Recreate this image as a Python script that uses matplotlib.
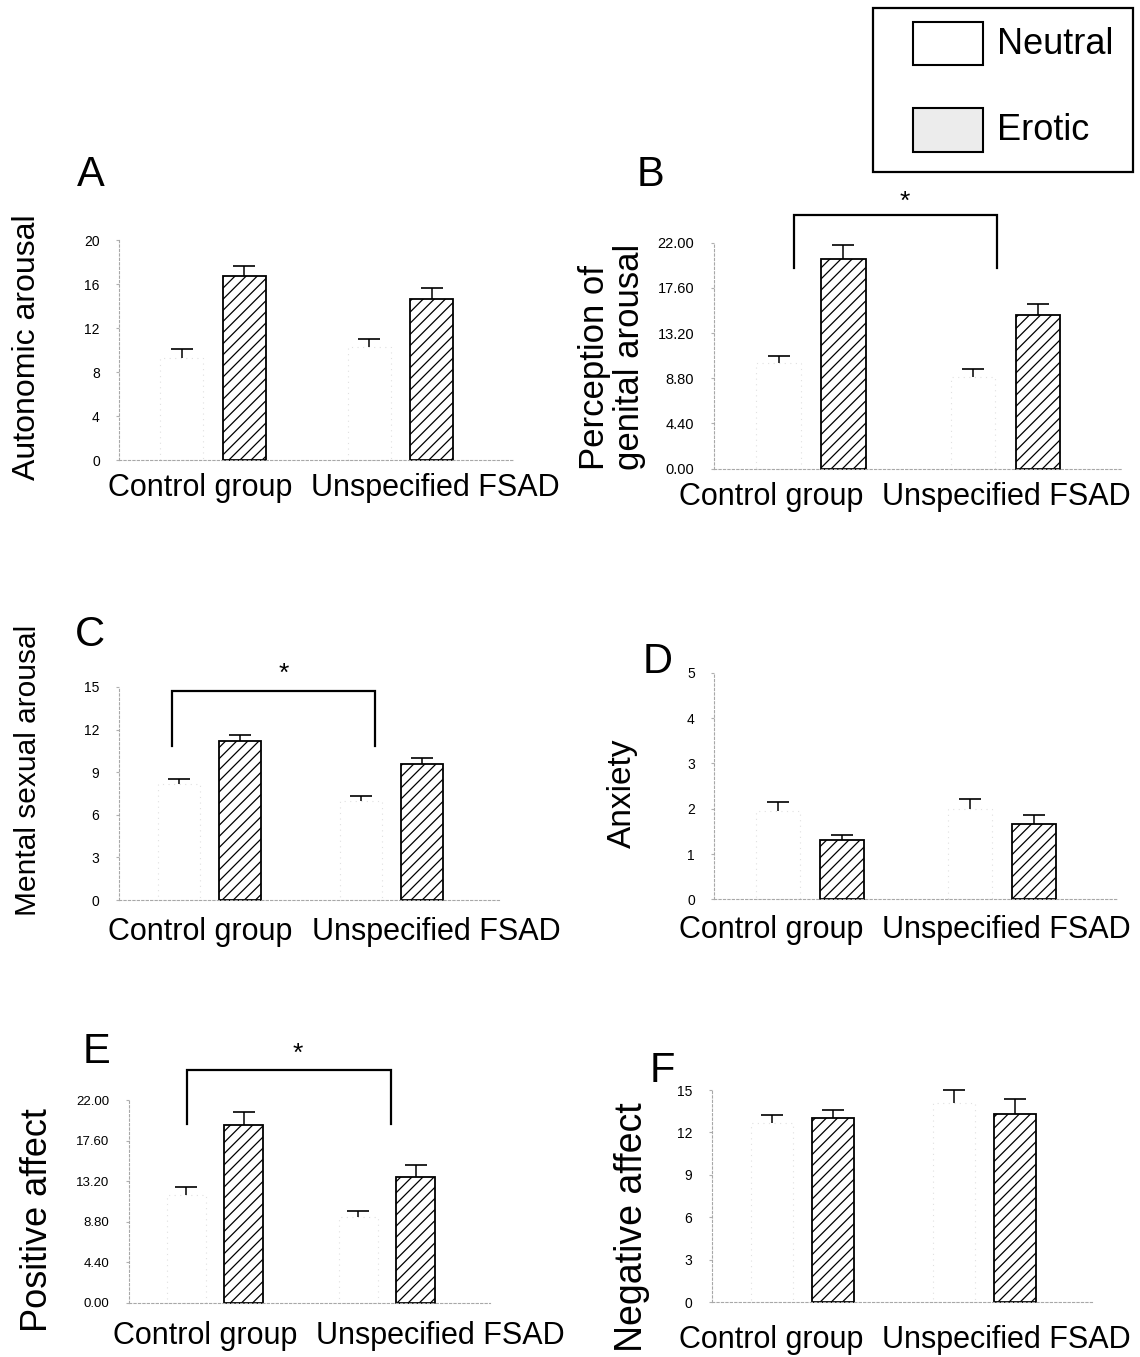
import matplotlib
matplotlib.use("Agg")
import matplotlib.pyplot as plt
from matplotlib.patches import Rectangle

plt.rcParams['font.family'] = ['Liberation Sans', 'DejaVu Sans']
plt.rcParams['hatch.linewidth'] = 0.9

W, H = 1140, 1357

groups = ["Control group", "Unspecified FSAD"]
conditions = ["Neutral", "Erotic"]

# Panel A - Autonomic arousal
autonomic_neutral = [9.3, 10.25]
autonomic_neutral_err = [0.75, 0.72]
autonomic_erotic = [16.7, 14.6]
autonomic_erotic_err = [0.9, 1.0]
autonomic_ticks = [0, 4, 8, 12, 16, 20]

# Panel B - Perception of genital arousal
genital_neutral = [10.25, 8.9]
genital_neutral_err = [0.75, 0.77]
genital_erotic = [20.4, 14.96]
genital_erotic_err = [1.4, 1.05]
genital_ticks = [0.0, 4.4, 8.8, 13.2, 17.6, 22.0]

# Panel C - Mental sexual arousal
mental_neutral = [8.2, 6.97]
mental_neutral_err = [0.3, 0.38]
mental_erotic = [11.2, 9.55]
mental_erotic_err = [0.4, 0.45]
mental_ticks = [0, 3, 6, 9, 12, 15]

# Panel D - Anxiety
anxiety_neutral = [1.96, 1.99]
anxiety_neutral_err = [0.18, 0.22]
anxiety_erotic = [1.32, 1.66]
anxiety_erotic_err = [0.1, 0.19]
anxiety_ticks = [0, 1, 2, 3, 4, 5]

# Panel E - Positive affect
positive_neutral = [11.7, 9.27]
positive_neutral_err = [0.9, 0.69]
positive_erotic = [19.3, 13.7]
positive_erotic_err = [1.36, 1.2]
positive_ticks = [0.0, 4.4, 8.8, 13.2, 17.6, 22.0]

# Panel F - Negative affect
negative_neutral = [12.7, 14.06]
negative_neutral_err = [0.56, 0.94]
negative_erotic = [13.0, 13.28]
negative_erotic_err = [0.6, 1.09]
negative_ticks = [0, 3, 6, 9, 12, 15]

fig = plt.figure(figsize=(W / 100, H / 100), dpi=100)

# overlay in pixel coordinates for labels / legend
ov = fig.add_axes([0, 0, 1, 1])
ov.set_xlim(0, W)
ov.set_ylim(H, 0)
ov.axis('off')
ov.set_zorder(5)

panels = [
    dict(letter="A", ylabel="Autonomic arousal", neu=autonomic_neutral, neu_e=autonomic_neutral_err,
         ero=autonomic_erotic, ero_e=autonomic_erotic_err, ticks=autonomic_ticks, fmt="{:.0f}",
         g0=213, S=187.5, zero=460, top=240,
         letter_xy=(91, 175), ylab_xy=(27, 347), ylab_fs=23, cat_y=488, cat_x=(200, 435),
         bracket=None, tfs=10),
    dict(letter="B", ylabel="Perception of\ngenital arousal", neu=genital_neutral, neu_e=genital_neutral_err,
         ero=genital_erotic, ero_e=genital_erotic_err, ticks=genital_ticks, fmt="{:.2f}",
         g0=811, S=194.5, zero=468.5, top=242.8,
         letter_xy=(650, 175), ylab_xy=(612, 345), ylab_fs=25, cat_y=497, cat_x=(771, 1006),
         bracket=(-0.087, 0.956, 24.7, 19.5, 0.48, 26.0), tfs=10.5),
    dict(letter="C", ylabel="Mental sexual arousal", neu=mental_neutral, neu_e=mental_neutral_err,
         ero=mental_erotic, ero_e=mental_erotic_err, ticks=mental_ticks, fmt="{:.0f}",
         g0=209.5, S=182, zero=900, top=687,
         letter_xy=(90, 635), ylab_xy=(28, 770), ylab_fs=21.5, cat_y=932, cat_x=(200, 436),
         bracket=(-0.205, 0.912, 14.74, 10.85, 0.41, 15.9), tfs=10),
    dict(letter="D", ylabel="Anxiety", neu=anxiety_neutral, neu_e=anxiety_neutral_err,
         ero=anxiety_erotic, ero_e=anxiety_erotic_err, ticks=anxiety_ticks, fmt="{:.0f}",
         g0=810.25, S=192, zero=899.3, top=672.8,
         letter_xy=(658, 662), ylab_xy=(622, 793), ylab_fs=24, cat_y=930, cat_x=(771, 1006),
         bracket=None, tfs=10),
    dict(letter="E", ylabel="Positive affect", neu=positive_neutral, neu_e=positive_neutral_err,
         ero=positive_erotic, ero_e=positive_erotic_err, ticks=positive_ticks, fmt="{:.2f}",
         g0=215, S=172, zero=1302.7, top=1100.1,
         letter_xy=(96, 1052), ylab_xy=(38, 1220), ylab_fs=26, cat_y=1336, cat_x=(205, 440),
         bracket=(-0.16, 1.023, 25.3, 19.4, 0.48, 27.0), tfs=9.5),
    dict(letter="F", ylabel="Negative affect", neu=negative_neutral, neu_e=negative_neutral_err,
         ero=negative_erotic, ero_e=negative_erotic_err, ticks=negative_ticks, fmt="{:.0f}",
         g0=802.5, S=182, zero=1302, top=1090,
         letter_xy=(662, 1071), ylab_xy=(632, 1227), ylab_fs=27, cat_y=1340, cat_x=(771, 1006),
         bracket=None, tfs=10),
]

XMIN, XMAX = -0.5, 1.6
OFF = 1 / 6
BW = 0.23


def upper_errorbar(ax, x, y, err):
    tops = [a + b for a, b in zip(y, err)]
    ax.vlines(x, y, tops, colors="black", linewidth=1.1, clip_on=False, zorder=3)
    ax.plot(x, tops, linestyle="none", marker="_", markersize=16, markeredgewidth=1.2,
            color="black", clip_on=False, zorder=3)


for p in panels:
    left = p["g0"] + XMIN * p["S"]
    width = (XMAX - XMIN) * p["S"]
    height = p["zero"] - p["top"]
    ax = fig.add_axes([left / W, (H - p["zero"]) / H, width / W, height / H])
    ax.set_xlim(XMIN, XMAX)
    ax.set_ylim(p["ticks"][0], p["ticks"][-1])
    ax.patch.set_alpha(0)

    xs = [0, 1]
    xn = [x - OFF for x in xs]
    xe = [x + OFF for x in xs]
    ax.bar(xn, p["neu"], width=BW, facecolor="white", edgecolor="#e0e0e0",
           linewidth=0.8, linestyle=(0, (1, 4)), label=conditions[0], clip_on=False)
    ax.bar(xe, p["ero"], width=BW, facecolor="white", edgecolor="black",
           linewidth=1.3, hatch="///", label=conditions[1], clip_on=False)
    upper_errorbar(ax, xn, p["neu"], p["neu_e"])
    upper_errorbar(ax, xe, p["ero"], p["ero_e"])

    for s in ["top", "right"]:
        ax.spines[s].set_visible(False)
    for s in ["left", "bottom"]:
        ax.spines[s].set_color("#a8a8a8")
        ax.spines[s].set_linewidth(0.8)
        ax.spines[s].set_linestyle((0, (2, 2)))
    ax.set_xticks([])
    ax.set_yticks(p["ticks"])
    ax.set_yticklabels([p["fmt"].format(t) for t in p["ticks"]], fontsize=p["tfs"])
    ax.tick_params(axis="y", length=2, color="#b0b0b0", pad=12)

    if p["bracket"] is not None:
        x1, x2, ytop, ybot, xs_, ys_ = p["bracket"]
        ax.plot([x1, x1, x2, x2], [ybot, ytop, ytop, ybot], color="black",
                linewidth=1.6, clip_on=False, solid_joinstyle="miter")
        ax.text(xs_, ys_, "*", ha="center", va="center", fontsize=19, clip_on=False)

    # overlay texts
    ov.text(*p["letter_xy"], p["letter"], fontsize=30, ha="center", va="center")
    if "\n" in p["ylabel"]:
        ov.text(p["ylab_xy"][0], 470, p["ylabel"], rotation=90, fontsize=p["ylab_fs"],
                ha="center", va="bottom", multialignment="left", linespacing=1.08)
    else:
        ov.text(*p["ylab_xy"], p["ylabel"], rotation=90, fontsize=p["ylab_fs"],
                ha="center", va="center")
    for cx, g in zip(p["cat_x"], groups):
        ov.text(cx, p["cat_y"], g, fontsize=22, ha="center", va="center")

# legend box
ov.add_patch(Rectangle((873, 8), 260, 164, facecolor="white", edgecolor="black", linewidth=1.6))
ov.add_patch(Rectangle((913, 22), 70, 43, facecolor="white", edgecolor="black", linewidth=1.5))
ov.add_patch(Rectangle((913, 108), 70, 44, facecolor="#ececec", edgecolor="black", linewidth=1.5))
ov.text(997, 45, conditions[0], fontsize=26, ha="left", va="center")
ov.text(997, 130, conditions[1], fontsize=26, ha="left", va="center")

fig.savefig("out.png", dpi=100)
